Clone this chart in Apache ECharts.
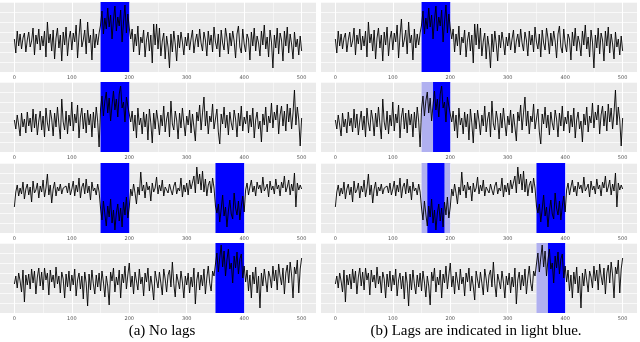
<!DOCTYPE html>
<html>
<head>
<meta charset="utf-8">
<script src="https://cdn.jsdelivr.net/npm/echarts@6/dist/echarts.min.js"></script>
<style>
html, body { margin: 0; padding: 0; background: #fff; }
#chart { width: 640px; height: 342px; }
</style>
</head>
<body>
<div id="chart"></div>
<script>
// sample spacing on the time axis
const step = 2.5
const tickLabels = [0, 100, 200, 300, 400, 500]
const gridLinesX = [0, 50, 100, 150, 200, 250, 300, 350, 400, 450, 500]

// row 1
const series1 = [
    -0.2, -1.6, 0.6, -0.9, 0.3, -1.2, -0.1, 0.4, -1.5, -0.3,
    0.5, -1.0, -0.4, 0.9, -1.8, 0.2, -0.7, 0.8, -1.3, 0.1,
    -0.9, 0.6, -2.0, 1.5, -0.6, 0.3, -1.4, 0.7, -2.2, -0.1,
    0.9, -1.1, 0.2, -2.4, 0.5, -0.8, 1.0, -1.9, -0.2, 0.6,
    -1.3, 0.4, -0.5, 1.2, -2.1, 0.1, 1.8, -1.0, -0.3, 0.7,
    -1.7, 1.5, -0.6, 0.2, -2.3, 0.8, -1.1, 0.3, -0.8, 0.4,
    1.2, 2.6, 0.3, 1.9, 0.8, 2.9, 1.0, 2.2, -0.2, 1.7, 3.1, 0.6, 2.0, 1.1, 2.7, -0.5, 1.5, 3.2, 0.4, 2.3, 0.9,
    -0.2, 0.8, -1.5, 0.3, -0.9, 1.1, -1.8, 0.0, -0.6, 0.7,
    -2.0, -0.3, 0.5, -1.4, 0.2, -2.6, 1.3, -0.8, 1.3, -1.2,
    0.9, -1.9, -0.4, 0.4, -2.2, 0.1, -1.0, -3.1, 0.3, -1.5,
    0.6, -0.7, -2.4, 0.2, -1.1, 0.5, -0.5, -1.8, 0.0, -0.9,
    0.4, -1.3, -0.2, 0.7, -1.6, -0.4, 0.3, -1.0, 0.8, -0.6,
    -1.4, 0.5, -0.3, -1.9, 0.6, -0.8, 0.2, -1.5, 1.0, -0.5,
    -1.2, 0.3, -2.0, 0.7, -0.6, -1.3, 0.9, -0.1, -1.7, 0.4,
    -0.9, 0.6, -0.4, -2.1, 0.3, 1.1, -1.0, -1.6, 0.8, -0.7,
    -1.5, 0.3, -0.2, -2.3, 0.5, -0.9, 0.9, -1.4, 0.1, -0.6,
    -1.9, 0.6, -0.8, 1.2, -1.2, 0.0, -2.0, 0.7, -0.5, -3.1,
    0.2, -1.1, 0.9, -1.7, 0.4, -0.3, -2.4, 0.6, -0.9, 1.0,
    -1.6, 0.3, -0.7, -2.2, 0.5, -1.0, -0.2, -1.8, 0.1, -1.4
]

// row 2
const series2 = [
    -0.3, -1.2, 0.2, -0.8, -1.9, 0.4, -1.0, -0.2, -1.6, 0.5,
    -0.9, -0.1, -1.5, 0.8, -1.1, 0.3, -1.8, -0.4, 0.6, -1.3,
    0.1, -2.0, 0.9, -0.6, -1.4, 0.7, -0.2, -1.9, 0.4, -1.0,
    1.0, -0.7, -2.2, 1.8, -0.5, -1.3, 0.6, -1.7, 0.2, -0.9,
    1.5, -1.4, 0.3, -0.6, 1.2, -2.1, 0.0, 0.9, -1.2, 0.4,
    -1.6, 0.7, -0.8, 0.3, -2.0, 0.5, -1.1, 1.0, -0.4, -3.0,
    0.8, 2.1, 0.1, 1.6, 2.5, 0.4, 1.9, -0.4, 1.2, 2.6, 0.7, 1.8, 0.0, 2.3, 3.1, 0.9, 1.5, -0.5, 2.0, 1.1, 0.3,
    -0.5, 0.6, -1.4, 0.2, -2.1, 0.9, -0.8, -0.1, -1.7, 0.5,
    -1.0, 0.3, -2.3, 0.8, -0.6, -2.6, 0.4, -1.2, 0.7, -0.4,
    -1.8, 0.2, -0.9, 1.1, -1.5, -0.2, 0.5, -2.0, 1.6, -0.7,
    -1.3, 0.6, -0.3, -2.2, 0.4, -1.1, 0.9, -0.6, -1.9, 0.1,
    -0.8, 0.7, -1.6, 0.3, -1.0, -2.4, 0.5, -0.4, 1.2, -1.3,
    0.4, 2.0, -0.9, 0.6, -1.7, 0.1, -0.5, 1.3, -1.2, -0.2,
    0.8, -1.5, -2.7, 0.3, -0.7, 1.0, -1.1, 0.2, -1.8, 0.5,
    -0.6, -1.3, 0.7, -0.2, -2.0, 0.4, -0.9, 1.1, -1.4, 0.0,
    -0.7, 0.6, -1.6, 0.2, -1.0, 0.9, -2.1, -0.3, 0.5, -1.2,
    -0.4, -2.5, 0.3, -0.8, 1.0, -1.5, 0.1, -0.6, 1.4, -1.1,
    0.5, -0.3, 1.2, -1.7, 0.2, 1.1, -0.9, 0.6, -1.4, 1.3,
    -0.5, 0.9, -1.2, 0.4, 2.7, -0.8, 1.0, -0.3, -2.9, -0.1
]

// row 3
const series3 = [
    -0.9, 0.6, 1.3, 0.2, 1.0, 0.4, 1.6, -0.1, 0.9, 1.4,
    0.3, 1.1, -0.4, 1.7, 0.5, 0.8, 1.5, 0.0, 1.2, 0.6,
    1.8, 0.1, 1.0, 2.4, 0.3, 1.3, -0.5, 0.9, 1.6, 0.2,
    1.1, 0.7, 1.4, 0.4, 1.0, 0.8, 1.2, 0.5, 1.5, 0.3,
    0.9, 1.7, 0.2, 1.3, 0.6, 2.0, 0.0, 1.1, 1.5, 0.4,
    1.9, 0.5, 1.2, -0.2, 1.6, 0.7, 1.0, 0.3, 1.4, 0.6,
    -1.0, -2.2, -0.3, -1.6, -2.8, -0.8, -1.9, -0.1, -2.5, -1.2, -3.2, -1.5, -0.6, -2.3, -1.0, -2.9, -0.4, -1.7, 0.1, -2.0, -0.9,
    0.9, 0.2, 1.4, 0.5, -0.6, 1.1, 0.3, 2.6, 0.7, 1.3,
    0.0, 1.6, 0.8, 1.2, -0.3, 1.5, 0.6, 1.0, 2.1, 0.4,
    1.3, 0.7, 1.8, 0.2, 1.1, 0.9, 0.5, 1.4, 0.8, 0.3,
    1.2, 1.6, 0.4, 1.0, 0.7, 2.0, 0.1, 1.3, 0.6, 1.5,
    0.3, 1.8, 0.9, 1.1, 2.2, 0.5, 3.1, 1.4, 2.4, 0.8,
    2.7, 0.6, 1.9, 0.2, 1.3, 1.7, 0.5, 2.0, 1.0, -0.8,
    -1.5, -0.6, -2.4, -1.1, 0.3, -1.8, -0.9, -2.9, -1.3, -0.2, -1.6, -2.1, 0.5, -1.0, -1.7, -0.3, -2.2, -0.8, 0.2, -1.4,
    0.8, 1.5, 0.3, 1.1, 1.8, 0.6, 1.2, 0.2, 1.6, 0.9,
    1.3, 0.5, 2.1, 0.7, 1.0, 1.4, 0.1, 1.7, 0.8, 1.2,
    0.4, 1.9, 0.9, 1.3, 0.2, 1.6, 1.0, 2.2, 0.6, 1.1,
    1.8, 0.3, 1.4, 0.7, 2.5, -0.9, 1.5, 0.8, 1.3, 0.9
]

// row 4
const series4 = [
    -0.6, 0.2, -1.0, 0.5, -0.3, -1.4, 0.8, -2.4, 0.3, -0.7,
    0.4, -1.1, 0.9, -0.5, 0.7, -1.6, 0.1, 1.0, -0.8, 0.6,
    -1.2, 1.0, -0.2, 0.5, -1.7, 0.8, -0.4, 0.3, -1.0, 1.1,
    -0.6, 0.2, -1.5, 0.6, -0.1, -2.0, 0.4, -0.9, 0.7, -1.3,
    0.3, -0.7, 0.9, -1.8, -0.2, 0.5, -1.1, 0.2, -2.1, 0.6,
    -0.5, -2.8, 0.4, -1.2, 0.8, -0.6, -1.6, 0.3, -0.9, 0.5,
    -1.3, 0.7, -0.4, -1.9, 0.2, -0.8, -2.7, 0.6, -0.3, 1.0,
    -1.4, 0.1, -0.7, 0.8, -2.0, 0.4, -0.5, 1.2, -1.1, 0.3,
    1.5, -0.9, 0.2, -1.6, 0.6, -0.3, -1.2, 0.9, -0.6, 0.1,
    -1.8, 0.5, -0.4, 1.0, -1.3, 0.2, -0.8, -2.2, 0.7, -0.2,
    -1.0, 0.6, -0.5, -1.7, 0.9, -0.1, -1.4, 0.3, 0.8, -0.9,
    1.6, -0.6, -1.9, 0.4, -0.3, -1.1, 0.7, -0.4, -2.0, 0.2,
    -0.7, 0.5, -1.5, 0.1, -0.9, 1.0, -2.6, -0.2, 0.6, -1.2,
    0.3, -0.8, 0.9, -1.6, 0.0, 1.2, -0.5, -1.3, 0.7, 0.2,
    1.4, 2.5, 0.6, 2.0, 3.3, 1.1, 2.7, 0.2, 1.8, 2.9, 0.9, 1.5, -0.5, 2.2, 1.0, 2.6, 0.4, 1.9, 2.4, 0.0, 1.2,
    -0.4, 0.8, -1.3, 0.3, -2.0, 0.6, -0.6, 1.1, -1.5, 0.2,
    -3.0, 0.5, -0.8, 0.9, -0.2, -1.4, 0.7, 0.1, -1.0, 1.2,
    -0.3, 0.8, -1.2, 1.4, 0.2, -0.7, 1.0, -1.6, 0.5, 1.3,
    -0.5, 1.6, 0.3, -2.0, 1.1, 0.4, 1.8, -1.5, 0.9, 2.0
]

const panelSeries = [series1, series2, series3, series4]

// shaded windows [from, to]
const shadeLeft = [[[150, 200]], [[150, 200]], [[150, 200], [350, 400]], [[350, 400]]]
const shadeRightDark = [[[150, 200]], [[170, 200]], [[160, 190], [350, 400]], [[370, 400]]]
const shadeRightLight = [[], [[150, 170]], [[150, 160], [190, 200]], [[350, 370]]]

const captions = ['(a) No lags', '(b) Lags are indicated in light blue.']

let chart = echarts.init(document.getElementById('chart'))

const tops = [2, 82, 163, 243]
const lefts = [0, 321]
const darkBlue = '#0000ff'
const lightBlue = '#b0b0f0'

let grids = []
let xAxes = []
let yAxes = []
let series = []

panelSeries.forEach((values, p) => {
    let data = values.map((v, i) => [i * step, v])
    for (let s = 0; s < 2; s++) {
        let idx = grids.length
        grids.push({
            left: lefts[s], top: tops[p], width: 316, height: 70,
            show: true, backgroundColor: '#ebebeb', borderWidth: 0
        })
        xAxes.push({
            gridIndex: idx, type: 'value', min: -25, max: 525,
            axisLine: { show: false }, axisTick: { show: false }, splitLine: { show: false },
            axisLabel: { customValues: tickLabels, fontSize: 5, color: '#555', margin: 3, fontFamily: 'DejaVu Sans' }
        })
        yAxes.push({
            gridIndex: idx, type: 'value', min: -3.5, max: 3.5, interval: 1,
            axisLine: { show: false }, axisTick: { show: false }, axisLabel: { show: false },
            splitLine: { lineStyle: { color: '#fff', width: 0.7 } }
        })
        let areas = []
        let dark = s === 0 ? shadeLeft[p] : shadeRightDark[p]
        let light = s === 0 ? [] : shadeRightLight[p]
        light.forEach((r) => areas.push([{ xAxis: r[0], itemStyle: { color: lightBlue } }, { xAxis: r[1] }]))
        dark.forEach((r) => areas.push([{ xAxis: r[0], itemStyle: { color: darkBlue } }, { xAxis: r[1] }]))
        series.push({
            type: 'line', xAxisIndex: idx, yAxisIndex: idx, data: data,
            symbol: 'none', silent: true, z: 3,
            lineStyle: { color: '#000', width: 0.9 },
            markArea: { z: 2, silent: true, data: areas },
            markLine: {
                z: 1, silent: true, symbol: 'none', label: { show: false },
                data: gridLinesX.map((v) => ({
                    xAxis: v,
                    lineStyle: { color: '#fff', width: v % 100 === 0 ? 1 : 0.5, type: 'solid' }
                }))
            }
        })
    }
})

chart.setOption({
    animation: false,
    backgroundColor: '#fff',
    grid: grids,
    xAxis: xAxes,
    yAxis: yAxes,
    series: series,
    graphic: captions.map((text, i) => ({
        type: 'text', x: [162, 476][i], y: 331,
        style: {
            text: text, align: 'center', verticalAlign: 'middle',
            font: '15px "Liberation Serif"', fill: '#000'
        }
    }))
})
</script>
</body>
</html>
